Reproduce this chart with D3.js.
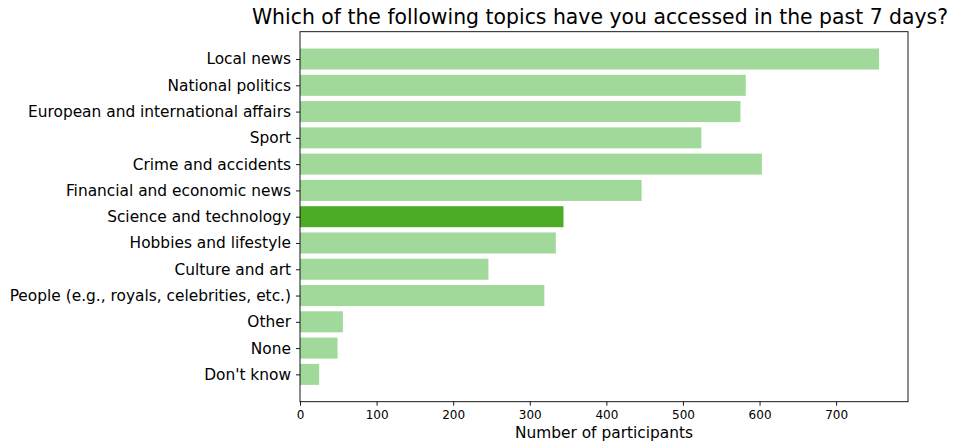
<!DOCTYPE html>
<html>
<head>
<meta charset="utf-8">
<script src="https://cdn.jsdelivr.net/npm/d3@7"></script>
<style>
  html, body { margin: 0; padding: 0; background: #fff; }
  svg { display: block; }
  text { font-family: "DejaVu Sans", sans-serif; fill: #000; }
</style>
</head>
<body>
<svg id="chart" width="965" height="443"></svg>
<script>
const title = "Which of the following topics have you accessed in the past 7 days?";
const categories = [
  "Local news",
  "National politics",
  "European and international affairs",
  "Sport",
  "Crime and accidents",
  "Financial and economic news",
  "Science and technology",
  "Hobbies and lifestyle",
  "Culture and art",
  "People (e.g., royals, celebrities, etc.)",
  "Other",
  "None",
  "Don't know"
];
const values = [756, 582, 575, 524, 603, 446, 344, 334, 246, 319, 56, 49, 25];
const highlighted = ["Science and technology"];
const xTicks = [0, 100, 200, 300, 400, 500, 600, 700];
const xLabel = "Number of participants";

const colorLight = "#a1d99b";
const colorDark = "#4dac26";

const svg = d3.select("#chart");
const frame = { left: 300, right: 908, top: 31.7, bottom: 401.7 };

const maxV = d3.max(values);
const x = d3.scaleLinear().domain([0, maxV * 1.05]).range([frame.left, frame.right]);
const n = categories.length;
const pad = 0.05 * (n - 1 + 0.8);
const yLin = d3.scaleLinear().domain([-0.4 - pad, n - 1 + 0.4 + pad]).range([frame.top, frame.bottom]);
const bh = yLin(0.8) - yLin(0);

// bars
svg.append("g").selectAll("rect")
  .data(categories)
  .join("rect")
  .attr("x", x(0))
  .attr("y", (d, i) => yLin(i - 0.4))
  .attr("width", (d, i) => x(values[i]) - x(0))
  .attr("height", bh)
  .attr("fill", d => highlighted.includes(d) ? colorDark : colorLight);

// frame
svg.append("rect")
  .attr("x", frame.left).attr("y", frame.top)
  .attr("width", frame.right - frame.left).attr("height", frame.bottom - frame.top)
  .attr("fill", "none").attr("stroke", "#000").attr("stroke-width", 0.9);

// x axis
const xAxis = d3.axisBottom(x).tickValues(xTicks).tickSize(4).tickPadding(5).tickFormat(d3.format("d"));
const gx = svg.append("g").attr("transform", `translate(0,${frame.bottom})`).call(xAxis);
gx.select(".domain").remove();
gx.selectAll("text").style("font-family", "DejaVu Sans").style("font-size", "12px").attr("fill", "#000");
gx.selectAll("line").attr("stroke", "#000").attr("stroke-width", 0.9);

// y axis
const yBand = d3.scalePoint().domain(categories).range([yLin(0), yLin(n - 1)]);
const yAxis = d3.axisLeft(yBand).tickSize(4).tickPadding(5);
const gy = svg.append("g").attr("transform", `translate(${frame.left},0)`).call(yAxis);
gy.select(".domain").remove();
gy.selectAll("text").style("font-family", "DejaVu Sans").style("font-size", "15.4px").attr("fill", "#000");
gy.selectAll("line").attr("stroke", "#000").attr("stroke-width", 0.9);

// x label
svg.append("text")
  .attr("x", (frame.left + frame.right) / 2)
  .attr("y", 438)
  .attr("text-anchor", "middle")
  .style("font-size", "15.4px")
  .text(xLabel);

// title
svg.append("text")
  .attr("x", 600)
  .attr("y", 24)
  .attr("text-anchor", "middle")
  .style("font-size", "20.4px")
  .text(title);
</script>
</body>
</html>
